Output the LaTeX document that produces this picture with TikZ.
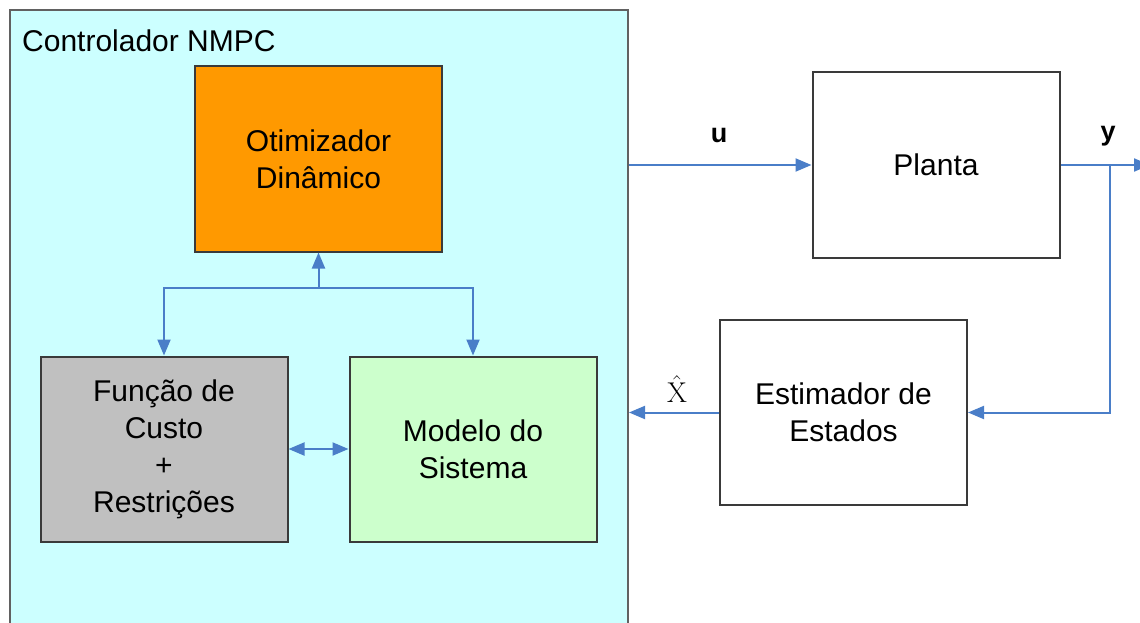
\documentclass[tikz,border=0pt]{standalone}
\usepackage[no-math]{fontspec}
\setmainfont{Liberation Sans}
\usetikzlibrary{arrows.meta}
\definecolor{cyanbg}{HTML}{CCFFFF}
\definecolor{orangebox}{HTML}{FF9900}
\definecolor{graybox}{HTML}{C0C0C0}
\definecolor{greenbox}{HTML}{CCFFCC}
\definecolor{linkblue}{HTML}{4A7EC8}
\definecolor{boxgray}{HTML}{3A3A3A}
\begin{document}
\begin{tikzpicture}[x=1pt,y=-1pt,
  box/.style={draw=boxgray, line width=2pt, minimum width=247pt, minimum height=185pt,
    align=center, font=\fontsize{30}{37}\selectfont, inner sep=0pt},
  conn/.style={draw=linkblue, line width=2pt, -{Triangle[length=16pt,width=13pt]}},
  lbl/.style={font=\fontsize{27}{30}\selectfont\bfseries}]
\useasboundingbox (0,0) rectangle (1140,623);
\clip (0,0) rectangle (1140,623);
\node[draw=boxgray!80, line width=2pt, fill=cyanbg, minimum width=618pt, minimum height=640pt, inner sep=0pt] (ctrl) at (319,330) {};
\node[anchor=base west, font=\fontsize{30}{36}\selectfont, inner sep=0pt] (title) at (22,52) {Controlador NMPC};
\node[box, fill=orangebox] (opt) at (318.5,159) {Otimizador\\Dinâmico};
\node[box, fill=graybox] (func) at (164,449) {Função de\\Custo\\+\\Restrições};
\node[box, fill=greenbox] (mod) at (473,449) {Modelo do\\Sistema};
\node[box, fill=white] (planta) at (936,165) {Planta};
\node[box, fill=white] (est) at (843.5,412.5) {Estimador de\\Estados};
\coordinate (j) at (318.5,288);
\coordinate (yend) at (1150,165);
\coordinate (br) at (1110,165);
\draw[conn] (j) -- (opt.south);
\draw[conn] (j) -| (func.north);
\draw[conn] (j) -| (mod.north);
\draw[conn, {Triangle[length=16pt,width=13pt]}-{Triangle[length=16pt,width=13pt]}] (func.east) -- (mod.west);
\draw[conn] (ctrl.east |- planta.west) -- (planta.west);
\draw[conn] (planta.east) -- (yend);
\draw[conn] (br) |- (est.east);
\draw[conn] (est.west) -- (est.west -| ctrl.east);
\node[lbl] (ulbl) at (719,135) {u};
\node[lbl] (ylbl) at (1108,136) {y};
\node[font=\fontsize{24}{28}\selectfont, inner sep=0pt, scale=1.15] (xlbl) at (677,389) {$\hat{\mathrm{X}}$};
\end{tikzpicture}
\end{document}
